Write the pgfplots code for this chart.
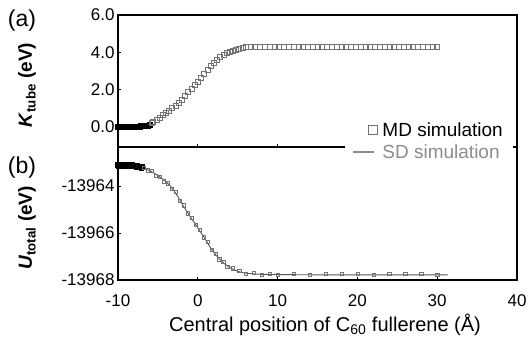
\documentclass[border=0pt]{standalone}
\usepackage{pgfplots}
\pgfplotsset{compat=1.18}
\usepackage{fontspec}
\setmainfont{Liberation Sans}
\definecolor{mdgray}{gray}{0.45}
\definecolor{sdgray}{gray}{0.55}
\begin{document}
\begin{tikzpicture}
\useasboundingbox (-118pt,-67pt) rectangle (411pt,280pt);
% ---------------- panel (a) ----------------
\begin{axis}[
  at={(0pt,133pt)}, anchor=south west,
  scale only axis, width=399pt, height=132pt,
  xmin=-10, xmax=40, ymin=-1.07, ymax=6,
  xtick={0,10,20,30}, xticklabels={}, xtick pos=left,
  ytick={0,2,4,6}, yticklabels={0.0,2.0,4.0,6.0}, ytick pos=left,
  tick label style={font=\fontsize{17}{19}\selectfont},
  tick align=inside, major tick length=3pt,
  axis line style={line width=1.2pt},
  every tick/.style={black, line width=1pt},
]
\addplot[only marks, mark=square, mark size=2.3pt, mark options={black, line width=0.6pt}] coordinates {
(-10.0,0.02) (-9.9,0.00) (-9.8,0.03) (-9.7,-0.02) (-9.6,0.01) (-9.5,0.03) (-9.4,-0.01) (-9.3,0.02)
(-9.2,0.00) (-9.1,0.03) (-9.0,0.01) (-8.9,-0.02) (-8.8,0.02) (-8.7,0.00) (-8.6,0.03) (-8.5,0.01)
(-8.4,-0.01) (-8.3,0.02) (-8.2,0.03) (-8.1,0.00) (-8.0,0.02) (-7.9,0.01) (-7.8,0.04) (-7.7,0.00)
(-7.6,0.03) (-7.5,0.02) (-7.4,0.04) (-7.3,0.01) (-7.2,0.05) (-7.1,0.03) (-7.0,0.04) (-6.9,0.06)
(-6.8,0.03) (-6.7,0.07) (-6.6,0.05) (-6.5,0.08) (-6.4,0.06) (-6.3,0.10) (-6.2,0.08) (-6.1,0.11)
(-6.0,0.12)
};
\addplot[only marks, mark=square, mark size=2.5pt, mark options={mdgray, line width=0.6pt}] coordinates {
(-5.8,0.20) (-5.6,0.26) (-5.2,0.37) (-4.8,0.50) (-4.4,0.63) (-4.0,0.77) (-3.6,0.89)
(-3.2,1.03) (-2.8,1.15) (-2.4,1.30) (-2.0,1.46) (-1.6,1.66) (-1.2,1.86) (-0.8,2.06)
(-0.4,2.25) (0.0,2.42) (0.4,2.61) (0.8,2.85) (1.2,3.06) (1.6,3.27) (2.0,3.45)
(2.4,3.62) (2.8,3.77) (3.2,3.88) (3.6,3.96) (4.0,4.03) (4.4,4.10) (4.8,4.16)
(5.2,4.21) (5.6,4.24) (6.0,4.27) (6.6,4.29) (7.2,4.28) (7.8,4.30) (8.4,4.29)
(9.0,4.30) (9.6,4.28) (10.2,4.30) (10.8,4.29) (11.4,4.31) (12.0,4.28) (12.6,4.30)
(13.2,4.29) (13.8,4.31) (14.4,4.28) (15.0,4.30) (15.6,4.29) (16.2,4.30) (16.8,4.28)
(17.4,4.30) (18.0,4.29) (18.6,4.31) (19.2,4.28) (19.8,4.30) (20.4,4.29) (21.0,4.30)
(21.6,4.28) (22.2,4.30) (22.8,4.29) (23.4,4.31) (24.0,4.28) (24.6,4.30) (25.2,4.29)
(25.8,4.30) (26.4,4.28) (27.0,4.30) (27.6,4.29) (28.2,4.30) (28.8,4.28) (29.4,4.29)
(30.0,4.29)
};
\end{axis}
% ---------------- panel (b) ----------------
\begin{axis}[
  at={(0pt,0pt)}, anchor=south west,
  scale only axis, width=399pt, height=133pt,
  xmin=-10, xmax=40, ymin=-13968, ymax=-13962.34,
  xtick={-10,0,10,20,30,40}, xticklabels={-10,0,10,20,30,40}, xtick pos=left,
  ytick={-13968,-13966,-13964}, yticklabels={-13968,-13966,-13964}, ytick pos=left,
  scaled y ticks=false,
  tick label style={font=\fontsize{17}{19}\selectfont},
  xticklabel style={yshift=-11pt},
  tick align=inside, major tick length=3pt,
  axis line style={line width=1.2pt},
  every tick/.style={black, line width=1pt},
  legend style={at={(axis description cs:0.99,1.045)}, anchor=east, draw=none, fill=white,
    font=\fontsize{19}{22}\selectfont, row sep=3pt, inner xsep=8pt, inner ysep=3pt},
  legend cell align=left,
  legend image code/.code={\draw[#1] (0pt,0pt) -- (0.95cm,0pt);},
]
\addlegendimage{legend image code/.code={\draw[draw=none] (0pt,0pt) -- (0.95cm,0pt); \node[draw=mdgray, line width=0.6pt, minimum size=9pt, inner sep=0pt] at (0.5cm,0pt) {};}}
\addlegendentry{MD simulation}
\addlegendimage{legend image code/.code={\draw[sdgray, line width=1.6pt] (0pt,0pt) -- (0.72cm,0pt); \draw[draw=none] (0.72cm,0pt) -- (0.95cm,0pt);}}
\addlegendentry{\textcolor{sdgray}{SD simulation}}
\addplot[forget plot, only marks, mark=square, mark size=2.3pt, mark options={black, line width=0.6pt}] coordinates {
(-10.0,-13963.10) (-9.9,-13963.14) (-9.8,-13963.08) (-9.7,-13963.12) (-9.6,-13963.16) (-9.5,-13963.10)
(-9.4,-13963.13) (-9.3,-13963.09) (-9.2,-13963.15) (-9.1,-13963.12) (-9.0,-13963.10) (-8.9,-13963.16)
(-8.8,-13963.12) (-8.7,-13963.14) (-8.6,-13963.10) (-8.5,-13963.17) (-8.4,-13963.13) (-8.3,-13963.15)
(-8.2,-13963.11) (-8.1,-13963.17) (-8.0,-13963.14) (-7.9,-13963.16) (-7.8,-13963.13) (-7.7,-13963.18)
(-7.6,-13963.15) (-7.5,-13963.19) (-7.4,-13963.16) (-7.3,-13963.20) (-7.2,-13963.18) (-7.1,-13963.22)
(-7.0,-13963.19)
};
\addplot[forget plot, sdgray!60!black, line width=0.9pt] coordinates {
(-10.0,-13963.12) (-9.0,-13963.13) (-8.0,-13963.16) (-7.0,-13963.22) (-6.5,-13963.28)
(-6.0,-13963.35) (-5.5,-13963.45) (-5.0,-13963.56) (-4.5,-13963.68) (-4.0,-13963.82)
(-3.5,-13963.98) (-3.0,-13964.20) (-2.5,-13964.45) (-2.0,-13964.75) (-1.5,-13965.02)
(-1.0,-13965.28) (-0.5,-13965.53) (0.0,-13965.78) (0.5,-13966.04) (1.0,-13966.30)
(1.5,-13966.58) (2.0,-13966.82) (2.5,-13967.03) (3.0,-13967.20) (3.5,-13967.35)
(4.0,-13967.47) (4.5,-13967.56) (5.0,-13967.63) (5.5,-13967.68) (6.0,-13967.71)
(7.0,-13967.74) (8.0,-13967.76) (10.0,-13967.77) (15.0,-13967.78) (20.0,-13967.78)
(25.0,-13967.78) (31.3,-13967.78)
};
\addplot[forget plot, only marks, mark=square, mark size=1.6pt, mark options={mdgray, line width=0.5pt}] coordinates {
(-6.8,-13963.22) (-6.3,-13963.33) (-5.8,-13963.36) (-5.3,-13963.55) (-4.8,-13963.60)
(-4.3,-13963.80) (-3.8,-13963.88) (-3.3,-13964.10) (-2.8,-13964.25) (-2.3,-13964.62)
(-1.8,-13964.82) (-1.3,-13965.16) (-0.8,-13965.34) (-0.3,-13965.66) (0.2,-13965.86)
(0.7,-13966.18) (1.2,-13966.36) (1.7,-13966.70) (2.2,-13966.88) (2.7,-13967.12)
(3.2,-13967.22) (3.7,-13967.42) (4.4,-13967.50) (5.2,-13967.62) (6.0,-13967.74)
(7.0,-13967.70) (8.0,-13967.76) (9.0,-13967.72) (10.0,-13967.76) (12.0,-13967.72)
(14.0,-13967.76) (16.0,-13967.72) (18.0,-13967.74) (20.0,-13967.72) (22.0,-13967.76)
(24.0,-13967.72) (26.0,-13967.75) (28.0,-13967.73) (30.0,-13967.76)
};
\end{axis}
% ---------------- labels ----------------
\node[font=\fontsize{23}{26}\selectfont] at (-96pt,259pt) {(a)};
\node[font=\fontsize{23}{26}\selectfont] at (-96pt,112pt) {(b)};
\node[rotate=90, font=\bfseries\fontsize{19}{22}\selectfont] at (-91pt,195pt) {\textit{K}\textsubscript{tube} (eV)};
\node[rotate=90, font=\bfseries\fontsize{19}{22}\selectfont] at (-91pt,52pt) {\textit{U}\textsubscript{total} (eV)};
\node[font=\fontsize{20}{23}\selectfont] at (207pt,-45pt) {Central position of C\textsubscript{60} fullerene (Å)};
\end{tikzpicture}
\end{document}
